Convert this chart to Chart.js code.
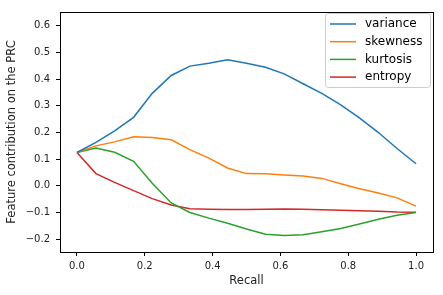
<!DOCTYPE html>
<html>
<head>
<meta charset="utf-8">
<script src="https://cdn.jsdelivr.net/npm/chart.js@4"></script>
<style>
  body { margin: 0; background: #fff; }
  canvas { display: block; }
</style>
</head>
<body>
<canvas id="chart" width="443" height="295"></canvas>
<script>
// recall points (19 steps)
const recall = [0, 0.056, 0.111, 0.167, 0.222, 0.278, 0.333, 0.389, 0.444, 0.5,
                0.556, 0.611, 0.667, 0.722, 0.778, 0.833, 0.889, 0.944, 1.0];

const variance = [0.125, 0.163, 0.206, 0.257, 0.347, 0.414, 0.449, 0.46, 0.473, 0.46,
                  0.445, 0.42, 0.383, 0.347, 0.304, 0.255, 0.2, 0.14, 0.083];
const skewness = [0.125, 0.15, 0.165, 0.184, 0.181, 0.173, 0.136, 0.104, 0.067, 0.046,
                  0.045, 0.041, 0.037, 0.028, 0.008, -0.011, -0.027, -0.045, -0.076];
const kurtosis = [0.125, 0.142, 0.126, 0.092, 0.01, -0.064, -0.1, -0.121, -0.14, -0.162,
                  -0.181, -0.186, -0.183, -0.172, -0.16, -0.143, -0.125, -0.11, -0.1];
const entropy  = [0.125, 0.046, 0.013, -0.018, -0.048, -0.072, -0.086, -0.088, -0.089, -0.089,
                  -0.088, -0.087, -0.088, -0.09, -0.091, -0.093, -0.095, -0.098, -0.099];

const seriesNames = ['variance', 'skewness', 'kurtosis', 'entropy'];
const seriesColors = ['#1f77b4', '#ff7f0e', '#2ca02c', '#d62728'];

const xTicks = [0, 0.2, 0.4, 0.6, 0.8, 1.0];
const yTicks = [-0.2, -0.1, 0, 0.1, 0.2, 0.3, 0.4, 0.5, 0.6];

const FONT = 'DejaVu Sans';

// helper: minus sign like matplotlib
const fmt = v => {
    const s = Math.abs(v) < 1e-9 ? '0.0' : v.toFixed(1);
    return s.replace('-', '\u2212');
};

// frame on all four sides + legend in the upper right corner
const framePlugin = {
    id: 'frame',
    afterDraw(chart) {
        const { ctx, chartArea: a } = chart;
        ctx.save();
        ctx.strokeStyle = '#000';
        ctx.lineWidth = 1;
        ctx.strokeRect(Math.round(a.left) + 0.5, Math.round(a.top) + 0.5,
                       Math.round(a.right - a.left), Math.round(a.bottom - a.top));

        // legend box
        const bx = 325, by = 13, bw = 105, bh = 74;
        ctx.fillStyle = 'rgba(255,255,255,0.8)';
        ctx.strokeStyle = '#cccccc';
        ctx.beginPath();
        ctx.roundRect(bx + 0.5, by + 0.5, bw, bh, 3);
        ctx.fill();
        ctx.stroke();

        ctx.font = `12px "${FONT}"`;
        ctx.textBaseline = 'middle';
        ctx.textAlign = 'left';
        chart.data.datasets.forEach((ds, i) => {
            const y = 24 + i * 17.7;
            ctx.strokeStyle = ds.borderColor;
            ctx.lineWidth = 1.5;
            ctx.beginPath();
            ctx.moveTo(330, y);
            ctx.lineTo(356, y);
            ctx.stroke();
            ctx.fillStyle = '#000';
            ctx.fillText(ds.label, 365, y);
        });
        ctx.restore();
    }
};

const datasets = [variance, skewness, kurtosis, entropy].map((vals, i) => ({
    label: seriesNames[i],
    data: recall.map((r, j) => ({ x: r, y: vals[j] })),
    borderColor: seriesColors[i],
    backgroundColor: seriesColors[i],
    borderWidth: 1.5,
    pointRadius: 0,
    tension: 0,
    fill: false
}));

new Chart(document.getElementById('chart'), {
    type: 'line',
    data: { datasets },
    options: {
        responsive: false,
        animation: false,
        layout: { padding: { top: 7, right: 10, left: 0, bottom: 0 } },
        plugins: {
            legend: { display: false },
            tooltip: { enabled: false }
        },
        scales: {
            x: {
                type: 'linear',
                min: -0.05,
                max: 1.05,
                afterBuildTicks: s => { s.ticks = xTicks.map(v => ({ value: v })); },
                afterFit: s => { s.height = 43; },
                grid: { drawOnChartArea: false, color: '#000', tickLength: 4 },
                border: { display: true, color: '#000' },
                ticks: {
                    color: '#222',
                    font: { family: FONT, size: 10 },
                    padding: 4,
                    maxRotation: 0,
                    callback: v => fmt(v)
                },
                title: {
                    display: true,
                    text: 'Recall',
                    color: '#222',
                    font: { family: FONT, size: 11.5 },
                    padding: { top: 0, bottom: 7 }
                }
            },
            y: {
                min: -0.248,
                max: 0.652,
                afterBuildTicks: s => { s.ticks = yTicks.map(v => ({ value: v })); },
                afterFit: s => { s.width = 60; },
                grid: { drawOnChartArea: false, color: '#000', tickLength: 4 },
                border: { display: true, color: '#000' },
                ticks: {
                    color: '#222',
                    font: { family: FONT, size: 10 },
                    padding: 6,
                    callback: v => fmt(v)
                },
                title: {
                    display: true,
                    text: 'Feature contribution on the PRC',
                    color: '#222',
                    font: { family: FONT, size: 11.5 },
                    padding: { top: 5, bottom: 0 }
                }
            }
        }
    },
    plugins: [framePlugin]
});
</script>
</body>
</html>
